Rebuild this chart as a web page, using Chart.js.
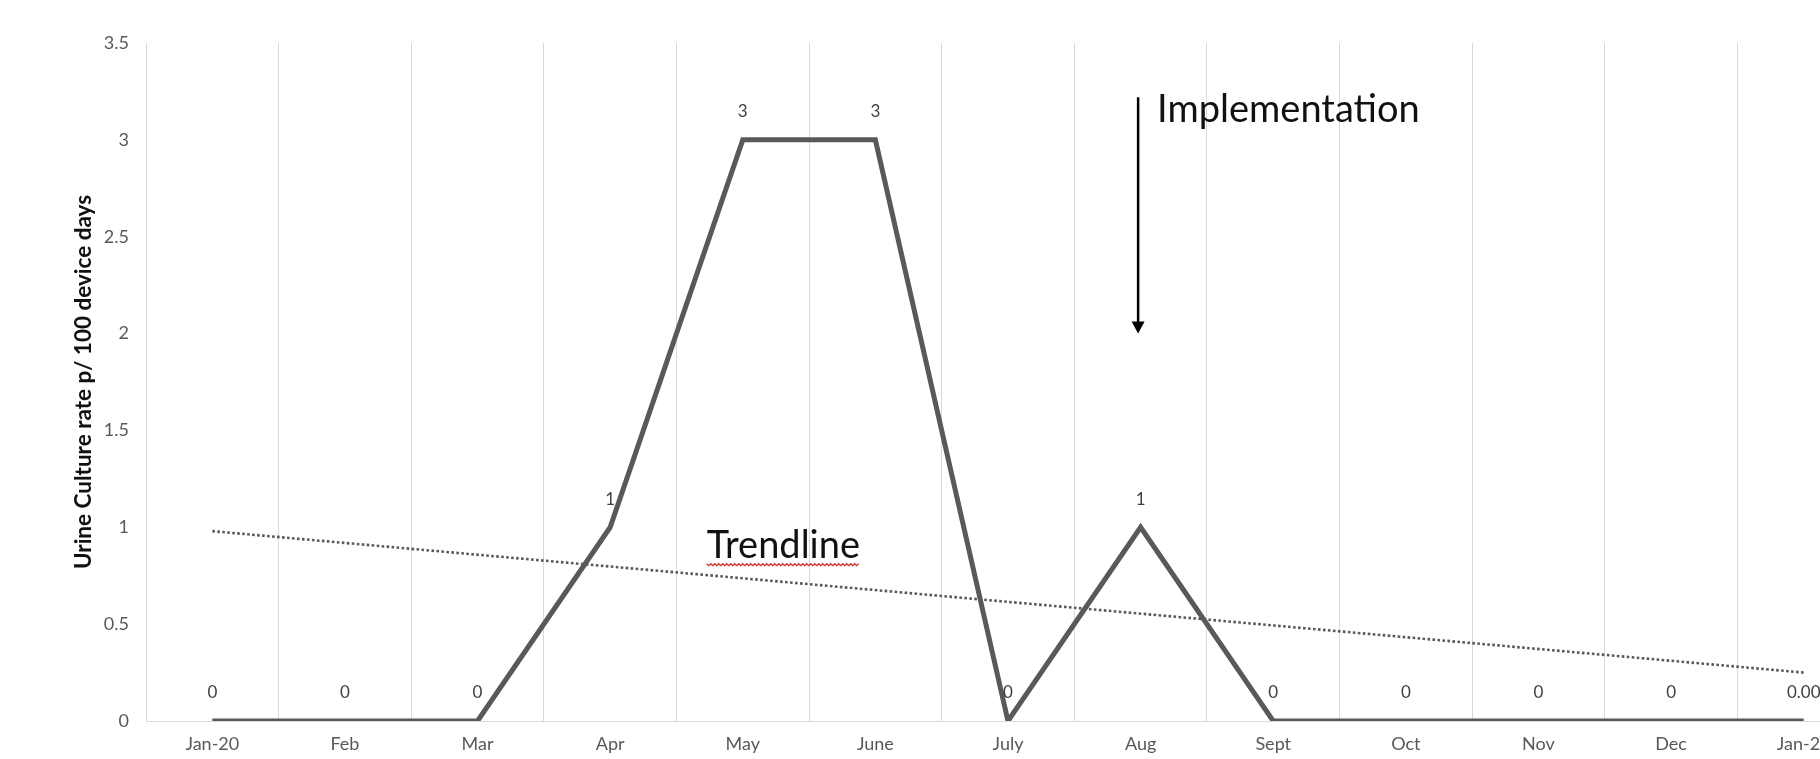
<!DOCTYPE html>
<html>
<head>
<meta charset="utf-8">
<script src="https://cdn.jsdelivr.net/npm/chart.js@4.4.1/dist/chart.umd.min.js"></script>
<style>
  html, body { margin: 0; padding: 0; overflow: hidden; background: #fff; }
  canvas { display: block; }
</style>
</head>
<body>
<canvas id="rateChart" width="1880" height="759" style="width:1880px;height:759px"></canvas>
<script>
// values
const months = ["Jan-20", "Feb", "Mar", "Apr", "May", "June", "July", "Aug", "Sept", "Oct", "Nov", "Dec", "Jan-21"];
const rates = [0, 0, 0, 1, 3, 3, 0, 1, 0, 0, 0, 0, 0];
const rateLabels = ["0", "0", "0", "1", "3", "3", "0", "1", "0", "0", "0", "0", "0.00"];
// dotted trendline, only the two ends are read
const trend = [0.98, null, null, null, null, null, null, null, null, null, null, null, 0.25];

const grey = "#595959";

// data labels, arrow and the two text notes
const notes = {
  id: "notes",
  afterDatasetsDraw(chart) {
    const ctx = chart.ctx;
    const x = chart.scales.x;
    const y = chart.scales.y;
    ctx.save();

    ctx.font = "17px Lato";
    ctx.fillStyle = "#404040";
    ctx.textAlign = "center";
    ctx.textBaseline = "middle";
    rates.forEach((v, i) => {
      ctx.fillText(rateLabels[i], x.getPixelForValue(i), y.getPixelForValue(v) - 28);
    });

    // Implementation arrow at Aug
    const ax = x.getPixelForValue(7) - 2.5;
    const top = y.getPixelForValue(3.22);
    const tip = y.getPixelForValue(2.0);
    ctx.strokeStyle = "#000";
    ctx.lineWidth = 2.5;
    ctx.beginPath();
    ctx.moveTo(ax, top);
    ctx.lineTo(ax, tip - 10);
    ctx.stroke();
    ctx.fillStyle = "#000";
    ctx.beginPath();
    ctx.moveTo(ax - 6.5, tip - 12);
    ctx.lineTo(ax + 6.5, tip - 12);
    ctx.lineTo(ax, tip);
    ctx.closePath();
    ctx.fill();

    ctx.fillStyle = "#111";
    ctx.textAlign = "left";
    ctx.textBaseline = "alphabetic";
    ctx.font = "38px Lato";
    ctx.fillText("Implementation", ax + 19, y.getPixelForValue(3.092));

    const tx = x.getPixelForValue(4) - 36;
    const ty = y.getPixelForValue(0.843);
    ctx.font = "38px Lato";
    ctx.fillText("Trendline", tx, ty);
    const tw = ctx.measureText("Trendline").width;

    // spell-check squiggle under "Trendline"
    ctx.strokeStyle = "#d9302c";
    ctx.lineWidth = 1.3;
    ctx.beginPath();
    for (let sx = 0; sx <= tw; sx += 2) {
      const sy = ty + 6 + ((sx / 2) % 2 === 0 ? 0 : 2);
      if (sx === 0) ctx.moveTo(tx + sx, sy);
      else ctx.lineTo(tx + sx, sy);
    }
    ctx.stroke();

    ctx.restore();
  }
};

new Chart(document.getElementById("rateChart"), {
  type: "line",
  data: {
    labels: months,
    datasets: [
      {
        label: "Urine culture rate",
        data: rates,
        borderColor: grey,
        borderWidth: 5,
        pointRadius: 0,
        tension: 0,
        fill: false,
      },
      {
        label: "Trendline",
        data: trend,
        spanGaps: true,
        borderColor: grey,
        borderWidth: 2.6,
        borderDash: [2.6, 2.4],
        pointRadius: 0,
        fill: false,
      },
    ],
  },
  options: {
    responsive: false,
    animation: false,
    layout: { padding: { top: 43, right: 10, left: 0, bottom: 0 } },
    plugins: {
      legend: { display: false },
      tooltip: { enabled: false },
    },
    scales: {
      x: {
        offset: true,
        grid: { offset: true, color: "#d9d9d9", drawTicks: false },
        border: { display: true, color: "#d9d9d9" },
        ticks: {
          color: grey,
          font: { family: "Lato", size: 18 },
          padding: 12,
          maxRotation: 0,
          autoSkip: false,
        },
        afterFit(scale) {
          scale.height = 38;
        },
      },
      y: {
        min: 0,
        max: 3.5,
        grid: { display: false, drawTicks: false },
        border: { display: false },
        ticks: {
          stepSize: 0.5,
          color: grey,
          font: { family: "Lato", size: 18 },
          padding: 17,
          callback: (value) => String(value),
        },
        title: {
          display: true,
          text: "Urine Culture rate p/ 100 device days",
          color: "#111",
          font: { family: "Lato", size: 22.5, weight: "bold" },
          padding: { top: 70.5, bottom: 0 },
        },
        afterFit(scale) {
          scale.width = 146;
        },
      },
    },
  },
  plugins: [notes],
});
</script>
</body>
</html>
